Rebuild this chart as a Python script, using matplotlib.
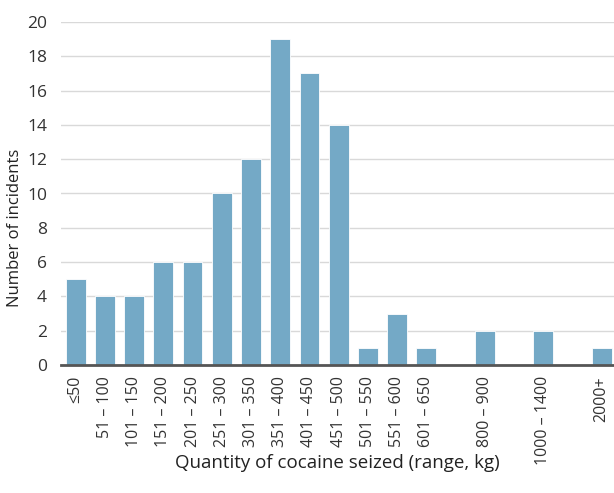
import matplotlib.pyplot as plt
import numpy as np

# seizure size ranges (empty strings are the gaps in the chart)
categories = ['≤50', '51 – 100', '101 – 150', '151 – 200', '201 – 250',
              '251 – 300', '301 – 350', '351 – 400', '401 – 450', '451 – 500',
              '501 – 550', '551 – 600', '601 – 650', '', '800 – 900', '',
              '1000 – 1400', '', '2000+']
incidents = [5, 4, 4, 6, 6, 10, 12, 19, 17, 14, 1, 3, 1, None, 2, None, 2, None, 1]

plt.rcParams['font.family'] = ['Open Sans', 'DejaVu Sans']

fig = plt.figure(figsize=(6.14, 4.93), dpi=100)
ax = fig.add_axes([61 / 614, 1 - 365 / 493, 553 / 614, 343 / 493])

x = np.arange(len(categories))
vals = np.array([v if v is not None else 0 for v in incidents], dtype=float)
mask = np.array([v is not None for v in incidents])
ax.bar(x[mask], vals[mask], width=0.68, color='#74a9c6',
       edgecolor='white', linewidth=0.6, zorder=3)

ax.set_xlim(-0.5, 18.42)
ax.set_ylim(0, 20)
ax.set_yticks(range(0, 21, 2))
ax.yaxis.grid(True, color='#d9d9d9', linewidth=1.0, zorder=0)
ax.set_xticks(x)
ax.set_xticklabels(categories, rotation=90, fontsize=11.5, color='#333333')
ax.tick_params(axis='y', labelsize=12.5, colors='#333333', length=0, pad=10)
ax.tick_params(axis='x', length=0, pad=8)

for s in ['top', 'right', 'left']:
    ax.spines[s].set_visible(False)
ax.spines['bottom'].set_color('#555555')
ax.spines['bottom'].set_linewidth(2)
ax.spines['bottom'].set_zorder(4)

ax.set_ylabel('Number of incidents', fontsize=12, color='#222222')
ax.yaxis.set_label_coords(-0.069, 0.40)
ax.set_xlabel('Quantity of cocaine seized (range, kg)', fontsize=13.5,
              color='#222222')
ax.xaxis.set_label_coords(0.5, -0.26)

fig.savefig('out.png', dpi=100)
